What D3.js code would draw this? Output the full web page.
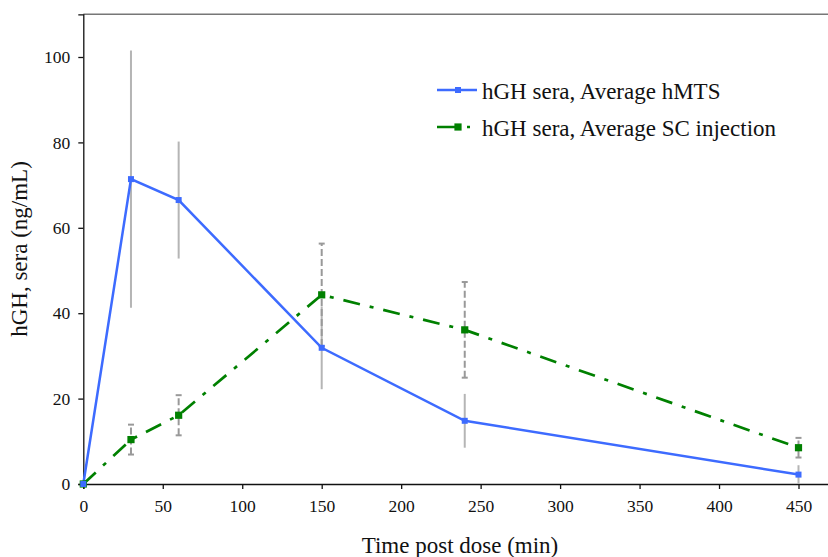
<!DOCTYPE html>
<html>
<head>
<meta charset="utf-8">
<script src="https://cdn.jsdelivr.net/npm/d3@7"></script>
<style>
	body { margin: 0; background: #fff; }
	text { font-family: "Liberation Serif", "Times New Roman", serif; fill: #111; }
</style>
</head>
<body>
<div id="chart"></div>
<script>

// data
const timePoints = [0, 30, 60, 150, 240, 450];
const hmtsMean = [0, 71.4, 66.5, 31.9, 14.8, 2.2];
const hmtsErr = [0, 30.1, 13.7, 9.7, 6.3, 2.2];
const scMean = [0, 10.4, 16.1, 44.3, 36.1, 8.5];
const scErr = [0, 3.5, 4.7, 12.0, 11.2, 2.3];
const xTicks = [0, 50, 100, 150, 200, 250, 300, 350, 400, 450];
const yTicks = [0, 20, 40, 60, 80, 100];
const seriesNames = ["hGH sera, Average hMTS", "hGH sera, Average SC injection"];

const W = 828, H = 557;
const plotLeft = 83.3, plotTop = 14.3, plotBottom = 484;

const svg = d3.select("#chart").append("svg")
	.attr("width", W)
	.attr("height", H);

// scales: plot box runs past the right edge of the picture
const x = d3.scaleLinear().domain([0, 480]).range([plotLeft, plotLeft + 480 * (715.2 / 450)]);
const y = d3.scaleLinear().domain([0, 110]).range([plotBottom, plotTop]);

const blueData = timePoints.map((t, i) => ({t: t, v: hmtsMean[i], e: hmtsErr[i]}));
const greenData = timePoints.map((t, i) => ({t: t, v: scMean[i], e: scErr[i]}));

// top frame line
svg.append("line")
	.attr("x1", plotLeft).attr("x2", W + 10)
	.attr("y1", y(110)).attr("y2", y(110))
	.attr("stroke", "#777").attr("stroke-width", 1.5);

// axes
const xAxis = svg.append("g")
	.attr("transform", "translate(0," + plotBottom + ")")
	.call(d3.axisBottom(x).tickValues(xTicks).tickSize(5).tickPadding(11));
const yAxis = svg.append("g")
	.attr("transform", "translate(" + plotLeft + ",0)")
	.call(d3.axisLeft(y).tickValues(yTicks).tickSize(5).tickPadding(8));

[xAxis, yAxis].forEach(g => {
	g.attr("font-family", null).attr("font-size", null);
	g.selectAll("path, line").attr("stroke", "#111").attr("stroke-width", 1.3);
	g.selectAll("text").attr("font-size", 17.5).attr("fill", "#111");
});

// error bars, hMTS (solid light grey, no caps)
svg.append("g").selectAll("line")
	.data(blueData.filter(d => d.e > 0))
	.enter().append("line")
	.attr("x1", d => x(d.t)).attr("x2", d => x(d.t))
	.attr("y1", d => y(Math.max(0, d.v - d.e)))
	.attr("y2", d => y(d.v + d.e))
	.attr("stroke", "#b5b5b5").attr("stroke-width", 2);

// error bars, SC (dashed grey with caps)
const scBars = svg.append("g").selectAll("g")
	.data(greenData.filter(d => d.e > 0))
	.enter().append("g");
scBars.append("line")
	.attr("x1", d => x(d.t)).attr("x2", d => x(d.t))
	.attr("y1", d => y(d.v - d.e)).attr("y2", d => y(d.v + d.e))
	.attr("stroke", "#999").attr("stroke-width", 2)
	.attr("stroke-dasharray", "7,3");
[-1, 1].forEach(s => {
	scBars.append("line")
		.attr("x1", d => x(d.t) - 3).attr("x2", d => x(d.t) + 3)
		.attr("y1", d => y(d.v + s * d.e)).attr("y2", d => y(d.v + s * d.e))
		.attr("stroke", "#999").attr("stroke-width", 2);
});

const line = d3.line().x(d => x(d.t)).y(d => y(d.v));

// SC line (dash-dot green)
svg.append("path")
	.datum(greenData)
	.attr("d", line)
	.attr("fill", "none")
	.attr("stroke", "#008000").attr("stroke-width", 2.7)
	.attr("stroke-dasharray", "17,10,4,10");

// hMTS line
svg.append("path")
	.datum(blueData)
	.attr("d", line)
	.attr("fill", "none")
	.attr("stroke", "#3d6bff").attr("stroke-width", 2.5);

// markers
svg.append("g").selectAll("rect")
	.data(greenData)
	.enter().append("rect")
	.attr("x", d => x(d.t) - 3.6).attr("y", d => y(d.v) - 3.6)
	.attr("width", 7.2).attr("height", 7.2)
	.attr("fill", "#008000");
svg.append("g").selectAll("rect")
	.data(blueData)
	.enter().append("rect")
	.attr("x", d => x(d.t) - 3).attr("y", d => y(d.v) - 3)
	.attr("width", 6).attr("height", 6)
	.attr("fill", "#3d6bff");

// axis titles
svg.append("text")
	.attr("x", 460).attr("y", 553)
	.attr("text-anchor", "middle")
	.attr("font-size", 23)
	.text("Time post dose (min)");
svg.append("text")
	.attr("transform", "translate(27,249) rotate(-90)")
	.attr("text-anchor", "middle")
	.attr("font-size", 23)
	.text("hGH, sera (ng/mL)");

// legend
const legend = svg.append("g");
const legendItems = [
	{name: seriesNames[0], color: "#3d6bff", dash: null, size: 6, yy: 90},
	{name: seriesNames[1], color: "#008000", dash: "24,6,3,50", size: 7.2, yy: 127}
];
legendItems.forEach(d => {
	legend.append("line")
		.attr("x1", 437).attr("x2", 477)
		.attr("y1", d.yy).attr("y2", d.yy)
		.attr("stroke", d.color).attr("stroke-width", 2.6)
		.attr("stroke-dasharray", d.dash);
	legend.append("rect")
		.attr("x", 458 - d.size / 2).attr("y", d.yy - d.size / 2)
		.attr("width", d.size).attr("height", d.size)
		.attr("fill", d.color);
	legend.append("text")
		.attr("x", 482).attr("y", d.yy + 9)
		.attr("font-size", 23)
		.text(d.name);
});
</script>
</body>
</html>
